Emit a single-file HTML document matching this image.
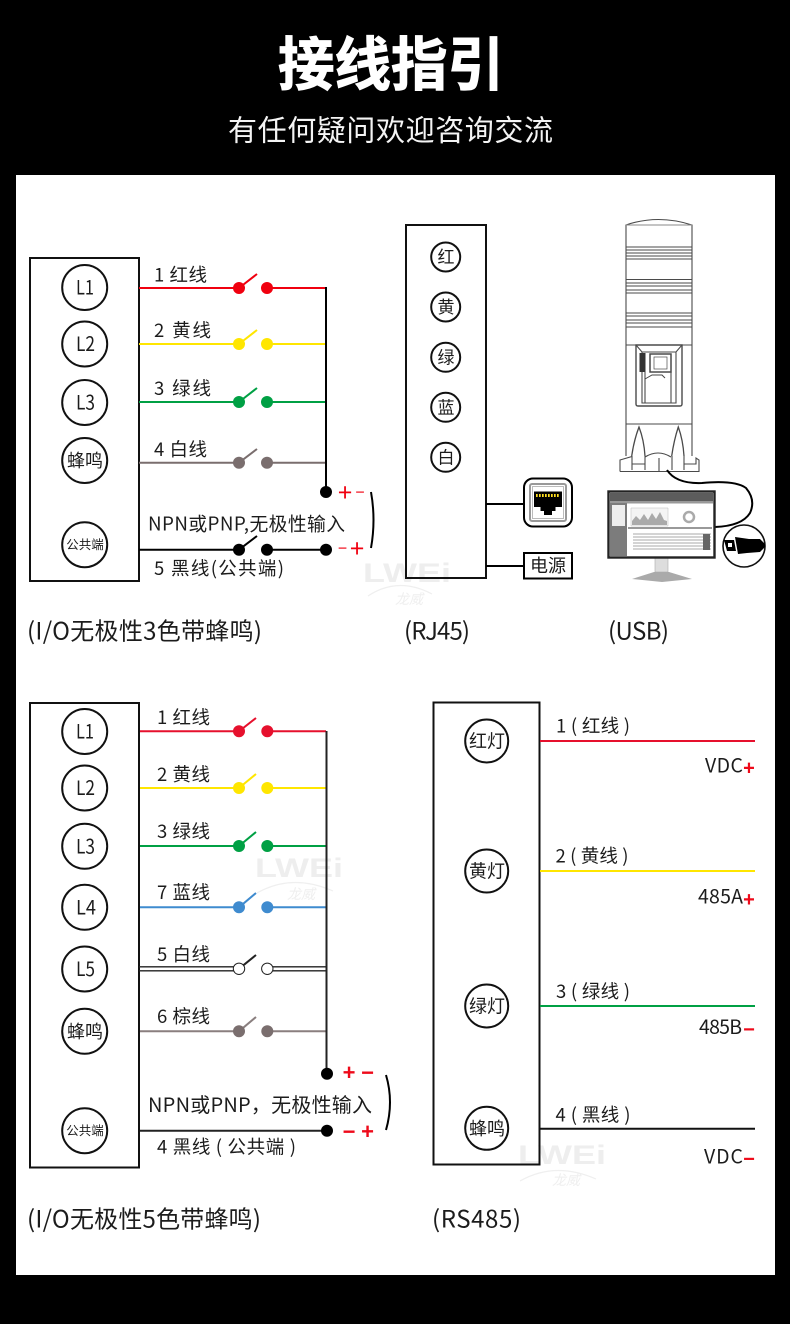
<!DOCTYPE html>
<html lang="zh">
<head>
<meta charset="utf-8">
<title>接线指引</title>
<style>
html,body{margin:0;padding:0;background:#fff}
svg{display:block}
text{font-family:"Noto Sans CJK SC","Liberation Sans",sans-serif;fill:#1c1c1c}
.c{text-anchor:middle}
.cir{fill:#fff;stroke:#111;stroke-width:2}
.box{fill:none;stroke:#111;stroke-width:2}
.lb{font-size:18.5px}
.val{font-size:19.5px}
.cap{font-size:24px}
.wm{fill:#eeeeee;font-family:"Liberation Sans",sans-serif;font-weight:bold;font-style:normal}
.wc{fill:#efefef;font-size:14px;font-style:italic}
.sign{fill:#ee0a1a;font-family:"Liberation Sans",sans-serif;font-weight:bold;text-anchor:middle}
.sn{fill:#f00010;font-family:"Liberation Sans",sans-serif;font-weight:normal;text-anchor:middle}
.t{fill:none;stroke:#4a4a4a;stroke-width:1.1}
</style>
</head>
<body>
<svg width="790" height="1340" viewBox="0 0 790 1340" xmlns="http://www.w3.org/2000/svg">
<rect width="790" height="1340" fill="#fff"/>
<rect width="790" height="1324" fill="#000"/>
<rect x="16" y="175" width="759" height="1100" fill="#fff"/>

<!-- header -->
<text x="278" y="85" font-size="58" font-weight="700" textLength="226" lengthAdjust="spacingAndGlyphs" style="fill:#fff;stroke:#fff;stroke-width:1">接线指引</text>
<text x="228" y="140.5" font-size="29" textLength="325" style="fill:#f4f4f4">有任何疑问欢迎咨询交流</text>

<!-- watermarks -->
<text class="wm" x="363" y="582" font-size="27" textLength="88" lengthAdjust="spacingAndGlyphs">LWEi</text>
<path d="M368 596Q398 576 432 594" fill="none" stroke="#efefef" stroke-width="1.2"/>
<text class="wc" x="395" y="604">龙威</text>
<text class="wm" x="255" y="877" font-size="27" textLength="88" lengthAdjust="spacingAndGlyphs">LWEi</text>
<path d="M257 893Q292 873 333 891" fill="none" stroke="#efefef" stroke-width="1.2"/>
<text class="wc" x="287" y="899">龙威</text>
<text class="wm" x="518" y="1164" font-size="27" textLength="88" lengthAdjust="spacingAndGlyphs">LWEi</text>
<path d="M520 1181Q555 1161 596 1179" fill="none" stroke="#efefef" stroke-width="1.2"/>
<text class="wc" x="552" y="1185">龙威</text>

<!-- ===== diagram 1 ===== -->
<rect class="box" x="30" y="258" width="109" height="323"/>
<circle class="cir" cx="84.7" cy="287.5" r="22.5"/>
<circle class="cir" cx="84.7" cy="344" r="22.5"/>
<circle class="cir" cx="84.7" cy="402.5" r="22.5"/>
<circle class="cir" cx="84.7" cy="460.5" r="22.5"/>
<circle class="cir" cx="84.7" cy="544.7" r="22.5"/>
<text x="76" y="294.5" font-size="20" textLength="18" lengthAdjust="spacingAndGlyphs">L1</text>
<text x="76" y="351" font-size="20" textLength="19" lengthAdjust="spacingAndGlyphs">L2</text>
<text x="76" y="409.5" font-size="20" textLength="19" lengthAdjust="spacingAndGlyphs">L3</text>
<text class="c" x="85" y="467" font-size="18">蜂鸣</text>
<text class="c" x="85" y="549" font-size="12.5">公共端</text>

<g fill="none" stroke-width="2">
<path d="M139 288H239M267 288H326M239 288L257 274" stroke="#f0000f"/>
<path d="M139 344H239M267 344H326M239 344L257 330" stroke="#ffe600"/>
<path d="M139 402H239M267 402H326M239 402L257 388" stroke="#00a044"/>
<path d="M139 462.7H239M267 462.7H326M239 462.7L257 449" stroke="#7a6e6e"/>
<path d="M139 549.7H239M267 549.7H326M239 549.7L257 536" stroke="#000"/>
<path d="M326 287V492" stroke="#000"/>
<path d="M371 492Q376 520 371 548" stroke="#000"/>
</g>
<g fill="#f0000f"><circle cx="239" cy="288" r="6"/><circle cx="267" cy="288" r="6"/></g>
<g fill="#ffe600"><circle cx="239" cy="344" r="6"/><circle cx="267" cy="344" r="6"/></g>
<g fill="#00a044"><circle cx="239" cy="402" r="6"/><circle cx="267" cy="402" r="6"/></g>
<g fill="#7a6e6e"><circle cx="239" cy="462.7" r="6"/><circle cx="267" cy="462.7" r="6"/></g>
<g fill="#000"><circle cx="239" cy="549.7" r="6"/><circle cx="267" cy="549.7" r="6"/><circle cx="326" cy="549.7" r="6"/><circle cx="326" cy="492" r="6"/></g>

<text class="lb" x="154" y="281.5" textLength="53">1 红线</text>
<text class="lb" x="154" y="337" textLength="57">2 黄线</text>
<text class="lb" x="154" y="395" textLength="57">3 绿线</text>
<text class="lb" x="154" y="456" textLength="53">4 白线</text>
<text x="148" y="530.5" font-size="18.8" textLength="197">NPN或PNP,无极性输入</text>
<text class="lb" x="154" y="575" textLength="130">5 黑线(公共端)</text>

<text class="sn" x="345" y="500.5" font-size="25">+</text>
<text class="sn" x="360" y="497.5" font-size="16">−</text>
<text class="sn" x="342.5" y="553.5" font-size="16">−</text>
<text class="sn" x="357" y="556.5" font-size="25">+</text>

<text class="cap" x="27" y="639.5" textLength="235">(I/O无极性3色带蜂鸣)</text>

<!-- ===== diagram RJ45 box ===== -->
<rect class="box" x="406" y="225" width="80" height="353"/>
<circle class="cir" cx="445.7" cy="257" r="14.5"/>
<circle class="cir" cx="445.7" cy="307" r="14.5"/>
<circle class="cir" cx="445.7" cy="357.3" r="14.5"/>
<circle class="cir" cx="445.7" cy="407.3" r="14.5"/>
<circle class="cir" cx="445.7" cy="457.3" r="14.5"/>
<text class="c" x="446" y="263" font-size="17">红</text>
<text class="c" x="446" y="313" font-size="17">黄</text>
<text class="c" x="446" y="363.3" font-size="17">绿</text>
<text class="c" x="446" y="413.3" font-size="17">蓝</text>
<text class="c" x="446" y="463.3" font-size="17">白</text>
<path d="M486 504H524M486 566H524" stroke="#000" stroke-width="2" fill="none"/>
<rect x="524" y="478.5" width="48" height="48" rx="9" fill="#fff" stroke="#000" stroke-width="2"/>
<rect x="530" y="484" width="36" height="37" rx="2" fill="#fff" stroke="#999" stroke-width="2"/>
<rect x="532.5" y="486.5" width="31" height="32" fill="none" stroke="#bbb" stroke-width="1"/>
<path d="M534 491.5H562V507H555.5V511H552V515H544V511H540.5V507H534Z" fill="#000"/>
<path d="M536 495.5H560" stroke="#ffdf20" stroke-width="3" stroke-dasharray="1.7 1.3" fill="none"/>
<rect x="524" y="553" width="48" height="25.5" fill="#fff" stroke="#000" stroke-width="2"/>
<text class="c" x="548" y="572" font-size="18">电源</text>
<text class="cap" x="404" y="639.5" textLength="66">(RJ45)</text>

<!-- tower -->
<g class="t">
<path d="M626 456V225Q658 214 692 225V456"/>
<path d="M626 225H692" stroke="#888"/>
<path d="M626 247H692M626 250H692M626 253H692M626 256H692M626 259H692"/>
<path d="M626 279.5H692M626 283H692M626 286H692M626 290H692M626 293H692"/>
<path d="M626 313H692M626 316H692M626 320H692M626 323H692M626 327H692"/>
<path d="M626 345H692M626 424H692"/>
<path d="M636 345H682V404Q682 406 680 406H638Q636 406 636 404Z" stroke-width="1.4"/>
<path d="M636 345L642 352H676L682 345M642 352V403H676V352M645 372V403H671V372" />
<rect x="650" y="354" width="21" height="18" stroke-width="1.5"/>
<rect x="654" y="357" width="13" height="12" stroke-width=".7"/>
<path d="M631.7 456Q634 440 639 427Q644 440 645 456M671.7 456Q674 440 678.3 427Q683 440 684 456" stroke-width="1.3"/>
<path d="M620 471.5V460L632 456.5V464L645 464V456M684 456V464H696V458L699 460V471.5H620M645 457Q658 449 671 457M659 458V471.5M632 464V470M645 464V470M672 456V470M684 464V470"/>
</g>
<rect x="639.5" y="353" width="6" height="19" fill="#333"/>
<path d="M645 379L652 375H662L665 378" fill="none" stroke="#444"/>

<!-- cable -->
<path d="M667 470Q676 484 702 483Q735 480 746 488Q756 500 750 513Q742 526 715 527" fill="none" stroke="#000" stroke-width="2"/>

<!-- monitor -->
<rect x="655" y="558" width="13" height="14" fill="#ddd" stroke="#aaa" stroke-width=".6"/>
<path d="M632 579L654 572H669L692 579L662 582Z" fill="#aaa"/>
<rect x="608.5" y="491.5" width="106" height="66" fill="#fff" stroke="#222" stroke-width="2.4"/>
<rect x="610" y="493" width="103" height="8" fill="#5c5c5c"/>
<rect x="610" y="501" width="103" height="2.5" fill="#999"/>
<rect x="610" y="503" width="17" height="53" fill="#7c7c7c"/>
<rect x="612" y="505" width="13" height="21" fill="#eee"/>
<path d="M631 526V508H668V526Z" fill="#f4f4f4" stroke="#bbb" stroke-width=".5"/>
<path d="M632 521L636 516L640 520L644 514L648 520L652 513L656 519L660 512L664 520L667 521V525H632Z" fill="#aaa"/>
<circle cx="689" cy="517" r="5" fill="none" stroke="#aaa" stroke-width="2.5"/>
<rect x="628" y="527" width="84" height="2" fill="#999"/>
<path d="M633 534H711M633 537H711M633 540H711M633 543H711M633 546H711M633 549H711" stroke="#aaa" stroke-width="1" fill="none"/>
<rect x="703" y="534" width="7" height="16" fill="#666"/>

<!-- usb -->
<circle cx="744" cy="546" r="21" fill="#fff" stroke="#111" stroke-width="1.6"/>
<path d="M735 537L749 539H760L765 544V547L760 552L747 553L738 554Z" fill="#000"/>
<path d="M724 540H734L736 551H727Z" fill="#000"/>
<rect x="728" y="543" width="4" height="4" fill="#fff"/>
<text class="cap" x="608" y="639.5" textLength="61">(USB)</text>

<!-- ===== diagram 3 ===== -->
<rect class="box" x="30" y="703" width="109" height="464.5" stroke="#222"/>
<circle class="cir" cx="84.7" cy="731.5" r="22.5"/>
<circle class="cir" cx="84.7" cy="788" r="22.5"/>
<circle class="cir" cx="84.7" cy="846.3" r="22.5"/>
<circle class="cir" cx="84.7" cy="907.3" r="22.5"/>
<circle class="cir" cx="84.7" cy="969" r="22.5"/>
<circle class="cir" cx="84.7" cy="1031.3" r="22.5"/>
<circle class="cir" cx="84.7" cy="1130.7" r="22.5"/>
<text x="76" y="738.5" font-size="20" textLength="18" lengthAdjust="spacingAndGlyphs">L1</text>
<text x="76" y="795" font-size="20" textLength="19" lengthAdjust="spacingAndGlyphs">L2</text>
<text x="76" y="853.3" font-size="20" textLength="19" lengthAdjust="spacingAndGlyphs">L3</text>
<text x="76" y="914.3" font-size="20" textLength="20" lengthAdjust="spacingAndGlyphs">L4</text>
<text x="76" y="976" font-size="20" textLength="19" lengthAdjust="spacingAndGlyphs">L5</text>
<text class="c" x="85" y="1037.8" font-size="18">蜂鸣</text>
<text class="c" x="85" y="1135" font-size="12.5">公共端</text>

<path d="M139 966.8H239M267 966.8H327M139 970.8H239M267 970.8H327" stroke="#222" stroke-width="1.4" fill="none"/>
<g fill="none" stroke-width="2">
<path d="M140 731.3H239M267 731.3H326M239 731.3L256 718" stroke="#e6102d"/>
<path d="M140 788H239M267 788H326M239 788L256 774" stroke="#ffe600"/>
<path d="M140 846H239M267 846H326M239 846L256 832" stroke="#00a044"/>
<path d="M140 907.3H239M267 907.3H326M239 907.3L256 893" stroke="#3f8bcf"/>
<path d="M239 968.8L256 955" stroke="#222"/>
<path d="M140 1031.3H239M267 1031.3H326M239 1031.3L256 1017" stroke="#8a7f7f"/>
<path d="M140 1130.7H327" stroke="#222"/>
<path d="M326.5 731V1074" stroke="#222"/>
<path d="M386 1075Q394 1102 386 1130" stroke="#000"/>
</g>
<g fill="#e6102d"><circle cx="239" cy="731.3" r="6"/><circle cx="267.3" cy="731.3" r="6"/></g>
<g fill="#ffe600"><circle cx="239" cy="788" r="6"/><circle cx="267.3" cy="788" r="6"/></g>
<g fill="#00a044"><circle cx="239" cy="846" r="6"/><circle cx="267.3" cy="846" r="6"/></g>
<g fill="#3f8bcf"><circle cx="239" cy="907.3" r="6"/><circle cx="267.3" cy="907.3" r="6"/></g>
<g fill="#fff" stroke="#222" stroke-width="1"><circle cx="239" cy="968.8" r="5.7"/><circle cx="267.3" cy="968.8" r="5.7"/></g>
<g fill="#7a6e6e"><circle cx="239" cy="1031.3" r="6"/><circle cx="267.3" cy="1031.3" r="6"/></g>
<g fill="#000"><circle cx="327" cy="1073.7" r="6"/><circle cx="327" cy="1130.7" r="6"/></g>

<text class="lb" x="157" y="724" textLength="53">1 红线</text>
<text class="lb" x="157" y="781" textLength="53">2 黄线</text>
<text class="lb" x="157" y="838" textLength="53">3 绿线</text>
<text class="lb" x="157" y="899" textLength="53">7 蓝线</text>
<text class="lb" x="157" y="961" textLength="53">5 白线</text>
<text class="lb" x="157" y="1023" textLength="53">6 棕线</text>
<text x="148" y="1112" font-size="20" textLength="224">NPN或PNP，无极性输入</text>
<text class="lb" x="157" y="1153.5" textLength="139">4 黑线 ( 公共端 )</text>

<text class="sign" x="349" y="1080" font-size="22">+</text>
<text class="sign" x="367.5" y="1080" font-size="22">−</text>
<text class="sign" x="349" y="1139" font-size="22">−</text>
<text class="sign" x="367.5" y="1139" font-size="22">+</text>

<text class="cap" x="27" y="1227.5" textLength="234">(I/O无极性5色带蜂鸣)</text>

<!-- ===== diagram 4 ===== -->
<rect class="box" x="433.5" y="702.5" width="106" height="462" stroke="#222"/>
<circle class="cir" cx="486.7" cy="741" r="21.5"/>
<circle class="cir" cx="486.7" cy="871" r="21.5"/>
<circle class="cir" cx="486.7" cy="1006" r="21.5"/>
<circle class="cir" cx="486.7" cy="1128.3" r="21.5"/>
<text class="c" x="487" y="747.5" font-size="18">红灯</text>
<text class="c" x="487" y="877.5" font-size="18">黄灯</text>
<text class="c" x="487" y="1012.5" font-size="18">绿灯</text>
<text class="c" x="487" y="1134.8" font-size="18">蜂鸣</text>
<g fill="none" stroke-width="2">
<path d="M540 741H755" stroke="#e6102d"/>
<path d="M540 871H755" stroke="#ffe600"/>
<path d="M540 1006H755" stroke="#00a044"/>
<path d="M540 1128.7H755" stroke="#111"/>
</g>
<text class="lb" x="556" y="732.5" textLength="74">1 ( 红线 )</text>
<text class="lb" x="555.5" y="862.5" textLength="73">2 ( 黄线 )</text>
<text class="lb" x="556" y="998" textLength="74">3 ( 绿线 )</text>
<text class="lb" x="555.5" y="1121.5" textLength="75">4 ( 黑线 )</text>
<text class="val" x="705" y="772.3" textLength="38">VDC</text>
<text class="sign" x="749" y="774.5" font-size="20">+</text>
<text class="val" x="698" y="903.3" textLength="45">485A</text>
<text class="sign" x="749" y="906" font-size="20">+</text>
<text class="val" x="699" y="1034" textLength="43">485B</text>
<text class="sign" x="749" y="1036" font-size="20">−</text>
<text class="val" x="704" y="1163.3" textLength="39">VDC</text>
<text class="sign" x="749" y="1165.5" font-size="20">−</text>
<text class="cap" x="432" y="1227.5" textLength="89">(RS485)</text>
</svg>
</body>
</html>
